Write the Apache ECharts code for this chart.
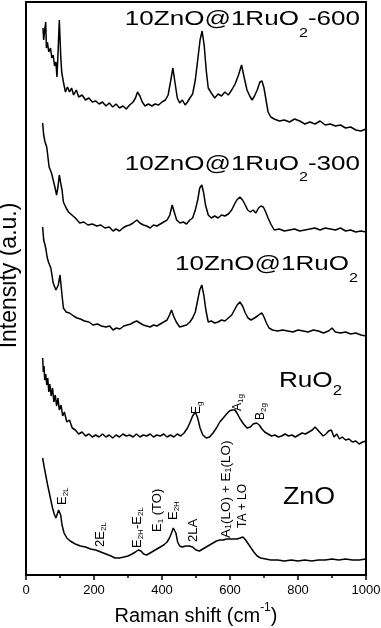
<!DOCTYPE html>
<html>
<head>
<meta charset="utf-8">
<script src="https://cdn.jsdelivr.net/npm/echarts@6/dist/echarts.min.js"></script>
<style>
html, body { margin: 0; padding: 0; background: #fff; }
#chart { width: 381px; height: 628px; }
</style>
</head>
<body>
<div id="chart"></div>
<script>
// Raman spectra: [Raman shift (cm-1), stacked intensity (a.u.)]
var zno600 = [[50,547],[52,535],[55,545],[58,553],[60,527],[63,533],[67,523],[72,527],[76,517],[80,520],[84,509],[88,513],[91,498],[94,520],[98,555],[102,520],[105,503],[110,493],[116,483],[122,488],[128,483],[134,487],[140,480],[148,485],[155,478],[165,480],[175,475],[185,477],[195,473],[205,474],[215,471],[225,473],[235,469],[245,472],[255,468],[265,471],[275,467],[285,469],[295,466],[305,470],[315,473],[322,477],[328,483],[335,479],[342,473],[350,469],[360,471],[370,469],[380,471],[390,470],[400,473],[410,475],[418,480],[425,493],[432,507],[438,493],[445,477],[452,472],[460,475],[468,470],[475,473],[482,477],[490,481],[498,495],[505,515],[512,535],[518,544],[524,530],[530,505],[536,487],[545,482],[555,477],[565,481],[575,479],[585,483],[595,480],[605,485],[615,491],[625,500],[634,510],[642,497],[650,485],[658,479],[665,475],[672,479],[680,485],[688,493],[694,494],[700,487],[706,475],[712,463],[720,458],[730,456],[745,454],[760,455],[775,453],[790,456],[805,454],[820,451],[835,453],[850,451],[865,454],[880,450],[895,451],[910,449],[925,450],[940,447],[955,448],[970,445],[985,444],[1000,446]];

var zno300 = [[49,452],[52,440],[56,433],[61,428],[68,408],[75,402],[80,395],[85,388],[90,380],[94,388],[98,400],[102,392],[106,385],[110,373],[118,367],[125,363],[135,360],[145,357],[158,352],[170,353],[182,350],[195,351],[208,349],[220,350],[232,347],[245,348],[256,344],[265,346],[275,344],[285,347],[295,349],[305,350],[315,352],[326,355],[335,352],[345,350],[355,349],[365,347],[375,350],[385,349],[395,351],[405,353],[415,355],[423,360],[430,370],[436,363],[443,355],[453,352],[463,353],[472,351],[482,355],[490,357],[498,365],[505,375],[511,387],[517,390],[522,383],[528,370],[536,360],[545,357],[555,359],[565,357],[575,360],[585,359],[595,361],[605,365],[612,370],[620,375],[629,378],[637,375],[645,370],[652,365],[660,363],[668,365],[676,362],[684,367],[691,369],[698,368],[705,363],[712,357],[720,351],[730,345],[745,346],[760,344],[775,345],[790,346],[805,344],[820,345],[835,346],[850,347],[865,345],[880,347],[895,346],[910,345],[925,347],[940,344],[955,345],[970,343],[985,344],[1000,343]];

var znoRuo2 = [[49,348],[52,335],[56,330],[59,325],[62,318],[66,313],[73,307],[80,292],[88,285],[95,290],[100,300],[105,283],[110,267],[118,263],[128,262],[140,259],[150,257],[160,256],[172,254],[185,253],[197,250],[210,251],[222,249],[235,248],[246,249],[256,245],[266,247],[276,246],[288,249],[298,250],[308,251],[318,253],[326,254],[335,252],[345,250],[355,249],[365,248],[375,250],[385,249],[395,251],[405,253],[415,255],[422,260],[428,265],[434,259],[442,253],[452,248],[462,249],[472,250],[482,253],[490,257],[498,263],[505,275],[511,285],[517,290],[523,280],[529,265],[536,253],[545,254],[555,252],[565,253],[575,255],[585,254],[595,257],[605,260],[613,265],[621,270],[629,273],[637,269],[645,262],[653,257],[662,255],[672,257],[681,259],[688,261],[694,262],[700,258],[707,252],[715,247],[725,245],[740,244],[755,245],[770,244],[785,243],[800,245],[815,244],[830,243],[845,245],[860,244],[875,242],[890,244],[900,247],[910,243],[925,242],[940,243],[955,241],[970,242],[985,240],[1000,239]];

var ruo2 = [[49,217],[51,203],[53,209],[55,195],[58,201],[61,190],[64,197],[67,183],[70,191],[74,179],[78,187],[82,173],[86,180],[90,169],[94,177],[98,165],[103,170],[108,159],[113,163],[120,153],[128,155],[136,147],[145,145],[155,141],[165,143],[175,139],[185,141],[195,138],[205,140],[215,138],[225,141],[235,138],[245,140],[255,137],[265,140],[275,138],[285,141],[295,139],[305,140],[315,138],[325,141],[335,138],[345,140],[355,139],[365,141],[375,138],[385,140],[395,139],[405,141],[415,138],[425,140],[435,138],[445,141],[455,139],[465,142],[475,147],[483,153],[490,159],[498,163],[505,157],[512,147],[520,140],[530,137],[540,138],[550,142],[560,147],[570,153],[580,157],[590,161],[598,164],[606,165],[615,165],[622,161],[630,156],[640,151],[650,147],[660,148],[668,151],[678,152],[686,150],[694,146],[702,143],[712,141],[722,139],[732,140],[742,138],[752,139],[762,141],[772,139],[782,140],[792,138],[802,140],[812,142],[822,141],[832,143],[842,145],[850,148],[858,145],[866,142],[874,139],[882,141],[890,144],[898,145],[906,138],[914,141],[922,136],[930,138],[940,135],[950,136],[960,133],[970,134],[980,131],[990,133],[1000,134]];

var zno = [[49,117],[53,109],[58,100],[63,91],[68,83],[73,75],[78,67],[83,61],[88,57],[92,59],[96,65],[99,67],[102,60],[106,50],[112,42],[120,37],[130,34],[145,31],[160,29],[175,28],[190,26],[205,25],[220,23],[235,21],[250,19],[262,17],[275,17],[288,18],[300,19],[312,21],[322,23],[330,25],[338,24],[346,21],[355,20],[365,22],[375,24],[385,26],[395,28],[405,30],[415,33],[422,37],[428,42],[433,47],[437,49],[441,42],[446,33],[452,29],[460,28],[470,29],[480,29],[490,28],[500,25],[510,24],[520,26],[530,28],[540,30],[550,32],[560,34],[570,35],[580,35],[590,36],[600,36],[610,36],[620,36],[630,37],[638,38],[646,35],[654,31],[662,27],[670,23],[680,19],[690,17],[705,16],[720,15],[740,15],[760,14],[780,15],[800,14],[820,15],[840,14],[860,15],[880,15],[900,16],[920,15],[940,16],[960,15],[980,15],[1000,16]];

var FONT = '"Liberation Sans", Arial, sans-serif';

function tok(size, lh, va) {
    return { fontSize: size, lineHeight: lh, verticalAlign: va, fontFamily: FONT, fill: '#000' };
}

// big sample names on the right, horizontally stretched like the original
function sampleLabel(text, right, top, size, subSize, subLine, sx) {
    return {
        type: 'text', x: right, y: top, scaleX: sx, silent: true,
        style: {
            text: text, align: 'right', verticalAlign: 'top', fill: '#000',
            rich: { m: tok(size, size, 'top'), s: tok(subSize, subLine, 'bottom') }
        }
    };
}

// vertical peak assignments, reading bottom to top
function peakLabel(text, left, bottom, size) {
    var sub = Math.round(size * 0.65);
    return {
        type: 'text', x: left, y: bottom, rotation: Math.PI / 2, silent: true,
        style: {
            text: text, align: 'left', verticalAlign: 'top', fill: '#000',
            rich: { m: tok(size, size, 'top'), s: tok(sub, size / 2 + 3 + sub / 2, 'bottom') }
        }
    };
}

function spectrum(data) {
    return {
        type: 'line', data: data, symbol: 'none', showSymbol: false, silent: true,
        lineStyle: { color: '#000', width: 1.5 }
    };
}

var chart = echarts.init(document.getElementById('chart'));

var option = {
    animation: false,
    backgroundColor: '#fff',
    grid: {
        left: 26, right: 15, top: 2, bottom: 53,
        show: true, borderColor: '#000', borderWidth: 2,
        outerBoundsMode: 'none'
    },
    xAxis: {
        type: 'value', min: 0, max: 1000, interval: 200,
        axisLine: { show: true, lineStyle: { color: '#000', width: 2 } },
        axisTick: { show: true, inside: false, length: 5, lineStyle: { color: '#000', width: 1.5 } },
        minorTick: { show: true, splitNumber: 2, length: 3, lineStyle: { color: '#000', width: 1.5 } },
        splitLine: { show: false },
        minorSplitLine: { show: false },
        axisLabel: {
            color: '#000', fontSize: 13, fontFamily: FONT, margin: 9,
            formatter: function (v) { return String(v); }
        },
        name: '{m|Raman shift (cm}{u|-1}{m|)}',
        nameLocation: 'middle',
        nameGap: 24,
        nameTextStyle: {
            color: '#000', fontFamily: FONT,
            rich: {
                m: { fontSize: 20, lineHeight: 25, verticalAlign: 'bottom', color: '#000', fontFamily: FONT },
                u: { fontSize: 12, lineHeight: 12, verticalAlign: 'top', color: '#000', fontFamily: FONT }
            }
        }
    },
    yAxis: {
        type: 'value', min: 0, max: 573,
        axisLine: { show: true, lineStyle: { color: '#000', width: 2 } },
        axisTick: { show: false },
        axisLabel: { show: false },
        splitLine: { show: false },
        name: 'Intensity (a.u.)',
        nameLocation: 'middle',
        nameGap: 5,
        nameTextStyle: { color: '#000', fontSize: 23, fontFamily: FONT, padding: [0, 0, 0, 26] }
    },
    series: [
        spectrum(zno600),
        spectrum(zno300),
        spectrum(znoRuo2),
        spectrum(ruo2),
        spectrum(zno)
    ],
    graphic: [
        sampleLabel('{m|10ZnO@1RuO}{s|2}{m|-600}', 360, 8.5, 21, 13, 31, 1.24),
        sampleLabel('{m|10ZnO@1RuO}{s|2}{m|-300}', 360, 154, 21, 13, 29.5, 1.24),
        sampleLabel('{m|10ZnO@1RuO}{s|2}', 358, 254, 21, 13, 30.5, 1.24),
        sampleLabel('{m|RuO}{s|2}', 342, 370, 22, 14, 28, 1.19),
        sampleLabel('{m|ZnO}', 335, 486, 23.5, 14, 23.5, 1.14),

        peakLabel('{m|E}{s|g}', 191, 414, 12),
        peakLabel('{m|A}{s|1g}', 232, 411, 12),
        peakLabel('{m|B}{s|2g}', 255, 420, 12),

        peakLabel('{m|E}{s|2L}', 56, 505, 13),
        peakLabel('{m|2E}{s|2L}', 94, 547, 13),
        peakLabel('{m|E}{s|2H}{m|-E}{s|2L}', 131, 548, 13),
        peakLabel('{m|E}{s|1}{m| (TO)}', 151, 532, 13),
        peakLabel('{m|E}{s|2H}', 167, 520, 13),
        peakLabel('{m|2LA}', 187, 542, 13),
        peakLabel('{m|A}{s|1}{m|(LO) + E}{s|1}{m|(LO)}', 219, 538, 13.5),
        peakLabel('{m|TA + LO}', 237, 528, 12)
    ]
};

chart.setOption(option);
</script>
</body>
</html>
